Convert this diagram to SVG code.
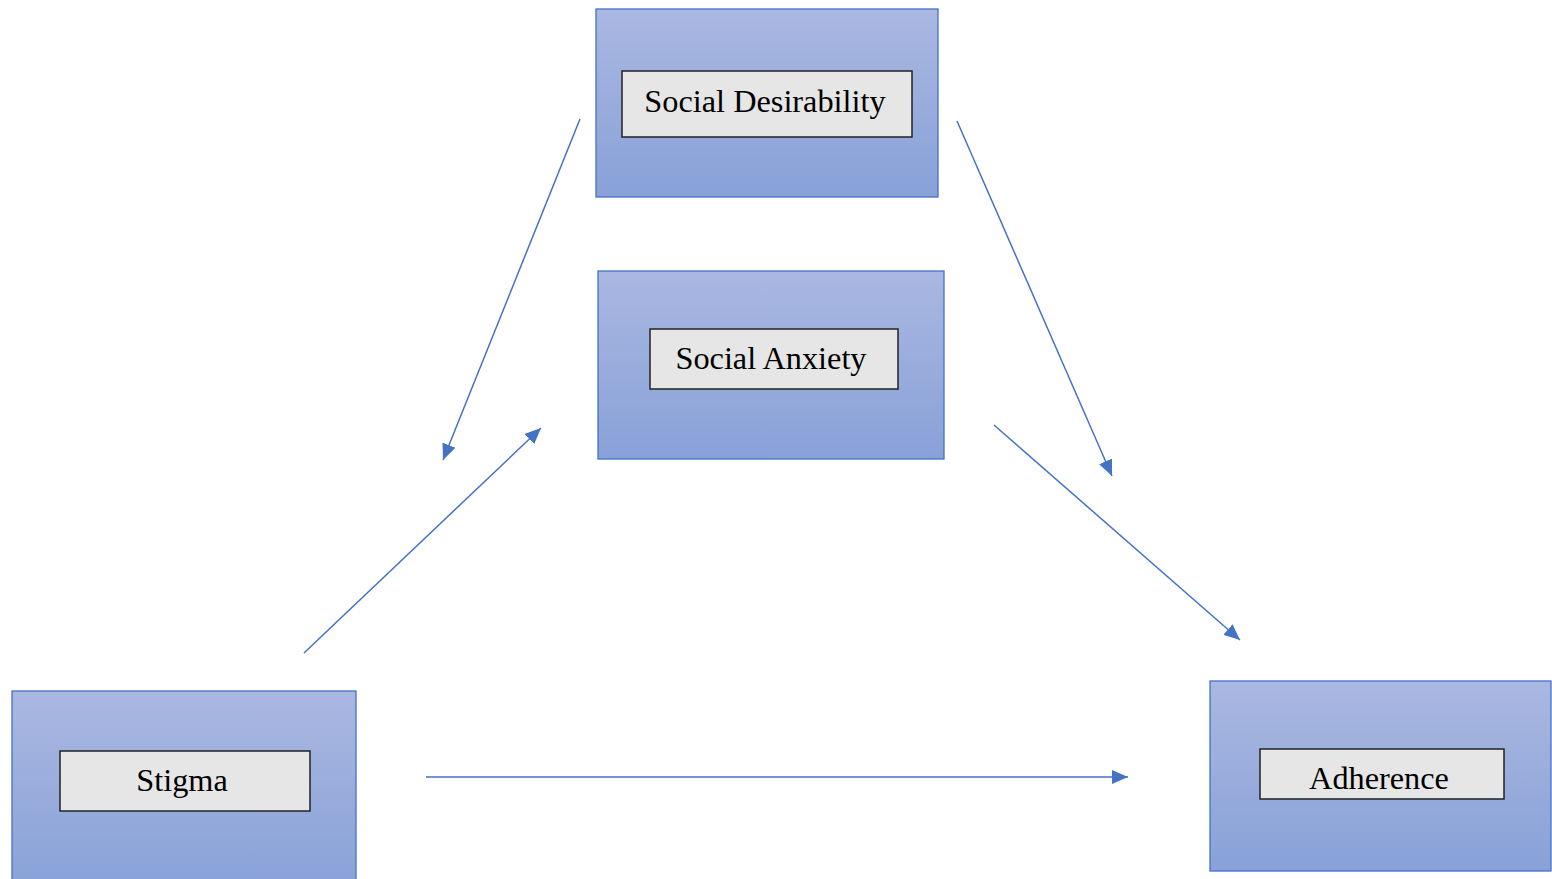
<svg xmlns="http://www.w3.org/2000/svg" width="1552" height="879" viewBox="0 0 1552 879">
<style>
.outer{fill:url(#g);stroke:#4472C4;stroke-width:1.3}
.inner{fill:#E6E6E6;stroke:#222;stroke-width:1.5}
.lbl{font-family:"Liberation Serif","Times New Roman",serif;font-size:32.3px;fill:#000;text-anchor:middle}
.conn{stroke:#4472C4;stroke-width:1.5;fill:none;marker-end:url(#ah)}
</style>
<defs>
<linearGradient id="g" x1="0" y1="0" x2="0" y2="1">
<stop offset="0" stop-color="#AAB8E1"/>
<stop offset="1" stop-color="#88A1D8"/>
</linearGradient>
<marker id="ah" markerUnits="userSpaceOnUse" markerWidth="18" markerHeight="14" refX="16" refY="7" orient="auto">
<path d="M0,0 L16,7 L0,14 z" fill="#4472C4"/>
</marker>
</defs>
<rect width="1552" height="879" fill="#fff"/>
<g id="node-social-desirability">
<rect class="outer" x="596" y="9" width="342" height="188"/>
<rect class="inner" x="622" y="71" width="290" height="66"/>
<text class="lbl" x="765" y="112">Social Desirability</text>
</g>
<g id="node-social-anxiety">
<rect class="outer" x="598" y="271" width="346" height="188"/>
<rect class="inner" x="650" y="329" width="248" height="60"/>
<text class="lbl" x="771" y="369">Social Anxiety</text>
</g>
<g id="node-stigma">
<rect class="outer" x="12" y="691" width="344" height="200"/>
<rect class="inner" x="60" y="751" width="250" height="60"/>
<text class="lbl" x="182" y="791">Stigma</text>
</g>
<g id="node-adherence">
<rect class="outer" x="1210" y="681" width="341" height="190"/>
<rect class="inner" x="1260" y="749" width="244" height="50"/>
<text class="lbl" x="1379" y="789">Adherence</text>
</g>
<g id="connectors">
<line class="conn" x1="580" y1="119" x2="443" y2="460"/>
<line class="conn" x1="304" y1="653" x2="541" y2="428"/>
<line class="conn" x1="957" y1="121" x2="1112" y2="476"/>
<line class="conn" x1="994" y1="425" x2="1240" y2="640"/>
<line class="conn" x1="426" y1="777" x2="1128" y2="777"/>
</g>
</svg>
